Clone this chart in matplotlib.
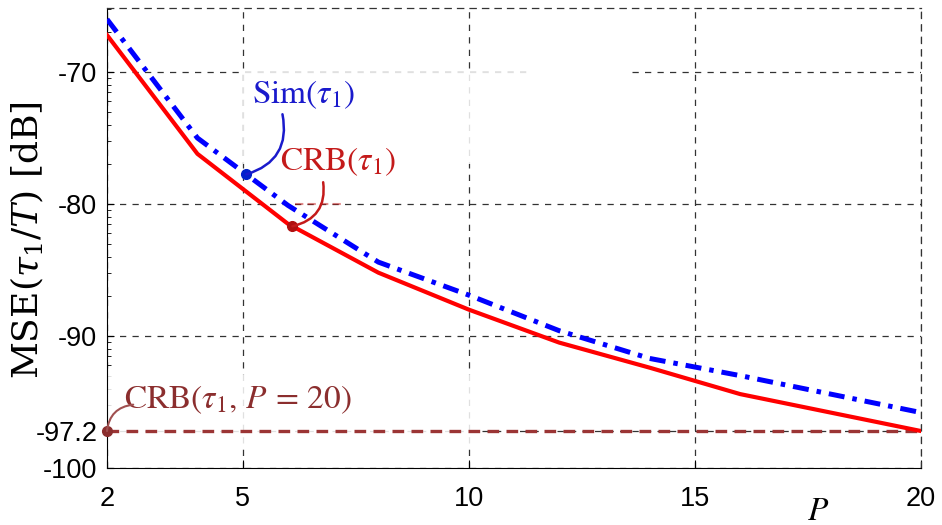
import numpy as np
import matplotlib.pyplot as plt
from matplotlib.patches import Rectangle

plt.rcParams['font.family'] = ['Liberation Sans', 'DejaVu Sans']
plt.rcParams['mathtext.fontset'] = 'stix'

# number of sensors P and MSE values in dB
P = [2, 4, 6, 8, 10, 12, 14, 16, 18, 20]
crb = [-67.2, -76.2, -81.5, -85.2, -88.0, -90.5, -92.4, -94.4, -95.8, -97.2]
sim = [-66.0, -75.0, -80.1, -84.4, -86.9, -89.6, -91.7, -93.0, -94.4, -95.8]
crb_p20 = -97.2

xticks = [2, 5, 10, 15, 20]
yticks = [-100, -97.2, -90, -80, -70]
yticklabels = ['-100', '-97.2', '-90', '-80', '-70']

# points picked out by the annotations
p_sim = 5.08
p_crb = 6.1

fig = plt.figure(figsize=(9.42, 5.25), dpi=100)
ax = fig.add_axes([107 / 942, 1 - 468 / 525, 814 / 942, 460 / 525])

ax.set_xlim(2, 20)
ax.set_ylim(-100, -65.15)
ax.set_xticks(xticks)
ax.set_yticks(yticks)
ax.set_yticklabels(yticklabels)

# log-style minor ticks on the dB axis
minor = []
for base in [-70, -80, -90, -100]:
    for k in range(2, 10):
        v = base + 10 * np.log10(k)
        if -100 < v < -65.15:
            minor.append(v)
ax.set_yticks(minor, minor=True)

ax.tick_params(axis='both', which='both', direction='in', labelsize=19.5)
ax.tick_params(axis='y', which='major', length=5, pad=7)
ax.tick_params(axis='y', which='minor', length=3)
ax.tick_params(axis='x', which='major', length=6, pad=13)

ax.set_axisbelow(True)
ax.grid(True, linestyle=(0, (5, 5)), color='#333333', linewidth=0.9)
for side in ['top', 'right']:
    ax.spines[side].set_linestyle((0, (5, 5)))
    ax.spines[side].set_color('#333333')
    ax.spines[side].set_linewidth(0.9)

# white text boxes sitting over the grid
ax.add_patch(Rectangle((5, -77.0), 6.4, 7.0, facecolor='white', edgecolor='none',
                       alpha=0.85, zorder=1))
ax.add_patch(Rectangle((11.4, -70.4), 2.1, 0.8, facecolor='white', edgecolor='none',
                       zorder=1))
ax.add_patch(Rectangle((2, -98.4), 8.3, 5.45, facecolor='white', edgecolor='none',
                       alpha=0.85, zorder=1, clip_on=False))

ax.axhline(crb_p20, color='#9b3535', linestyle=(0, (3.5, 2.2)), linewidth=2.4, zorder=2)
ax.plot(P, crb, color='#ff0000', linewidth=3, zorder=3)
ax.plot(P, sim, color='#0000ff', linestyle=(0, (3.2, 1.6, 0.9, 1.6)), linewidth=3.6, zorder=4)

# Sim(tau_1) annotation
y_sim = np.interp(p_sim, P, sim)
ax.plot(p_sim, y_sim, 'o', color='#0022cc', markersize=7, zorder=6)
ax.text(6.35, -71.7, r'$\mathrm{Sim}(\tau_1)$', color='#1a1acc', fontsize=24,
        ha='center', va='center', zorder=6)
ax.annotate('', xy=(p_sim, y_sim), xytext=(5.88, -73.2),
            arrowprops=dict(arrowstyle='-', color='#1a1acc', lw=1.8,
                            connectionstyle='arc3,rad=-0.45', shrinkA=0, shrinkB=0),
            zorder=6)

# CRB(tau_1) annotation
y_crb = np.interp(p_crb, P, crb)
ax.plot(p_crb, y_crb, 'o', color='#b01010', markersize=7, zorder=6)
ax.text(7.1, -76.8, r'$\mathrm{CRB}(\tau_1)$', color='#c41a1a', fontsize=24,
        ha='center', va='center', zorder=6)
ax.annotate('', xy=(p_crb, y_crb), xytext=(6.78, -78.35),
            arrowprops=dict(arrowstyle='-', color='#c41a1a', lw=1.8,
                            connectionstyle='arc3,rad=-0.45', shrinkA=0, shrinkB=0),
            zorder=6)
ax.plot([6.16, 7.27], [-80.0, -80.0], color='#c41a1a', linestyle=(0, (4, 2)),
        linewidth=1.5, alpha=0.5, zorder=5)

# CRB at P = 20 annotation
ax.plot(2, crb_p20, 'o', color='#8b2e2e', markersize=7, zorder=6, clip_on=False)
ax.text(4.9, -94.8, r'$\mathrm{CRB}(\tau_1,\, P\,=\,20)$', color='#8b2e2e', fontsize=24,
        ha='center', va='center', zorder=6)
ax.annotate('', xy=(2, crb_p20), xytext=(2.58, -95.2),
            arrowprops=dict(arrowstyle='-', color='#a05050', lw=1.5,
                            connectionstyle='arc3,rad=0.4', shrinkA=0, shrinkB=0),
            zorder=6)

fig.text(27 / 942, 1 - 240 / 525, r'$\mathrm{MSE}(\tau_1/T)$ [dB]', fontsize=26,
         family='DejaVu Serif', math_fontfamily='dejavuserif', rotation=90,
         ha='center', va='center')
fig.text(818 / 942, 1 - 511 / 525, r'$P$', fontsize=24, ha='center', va='center')

fig.savefig('out.png', dpi=100)
